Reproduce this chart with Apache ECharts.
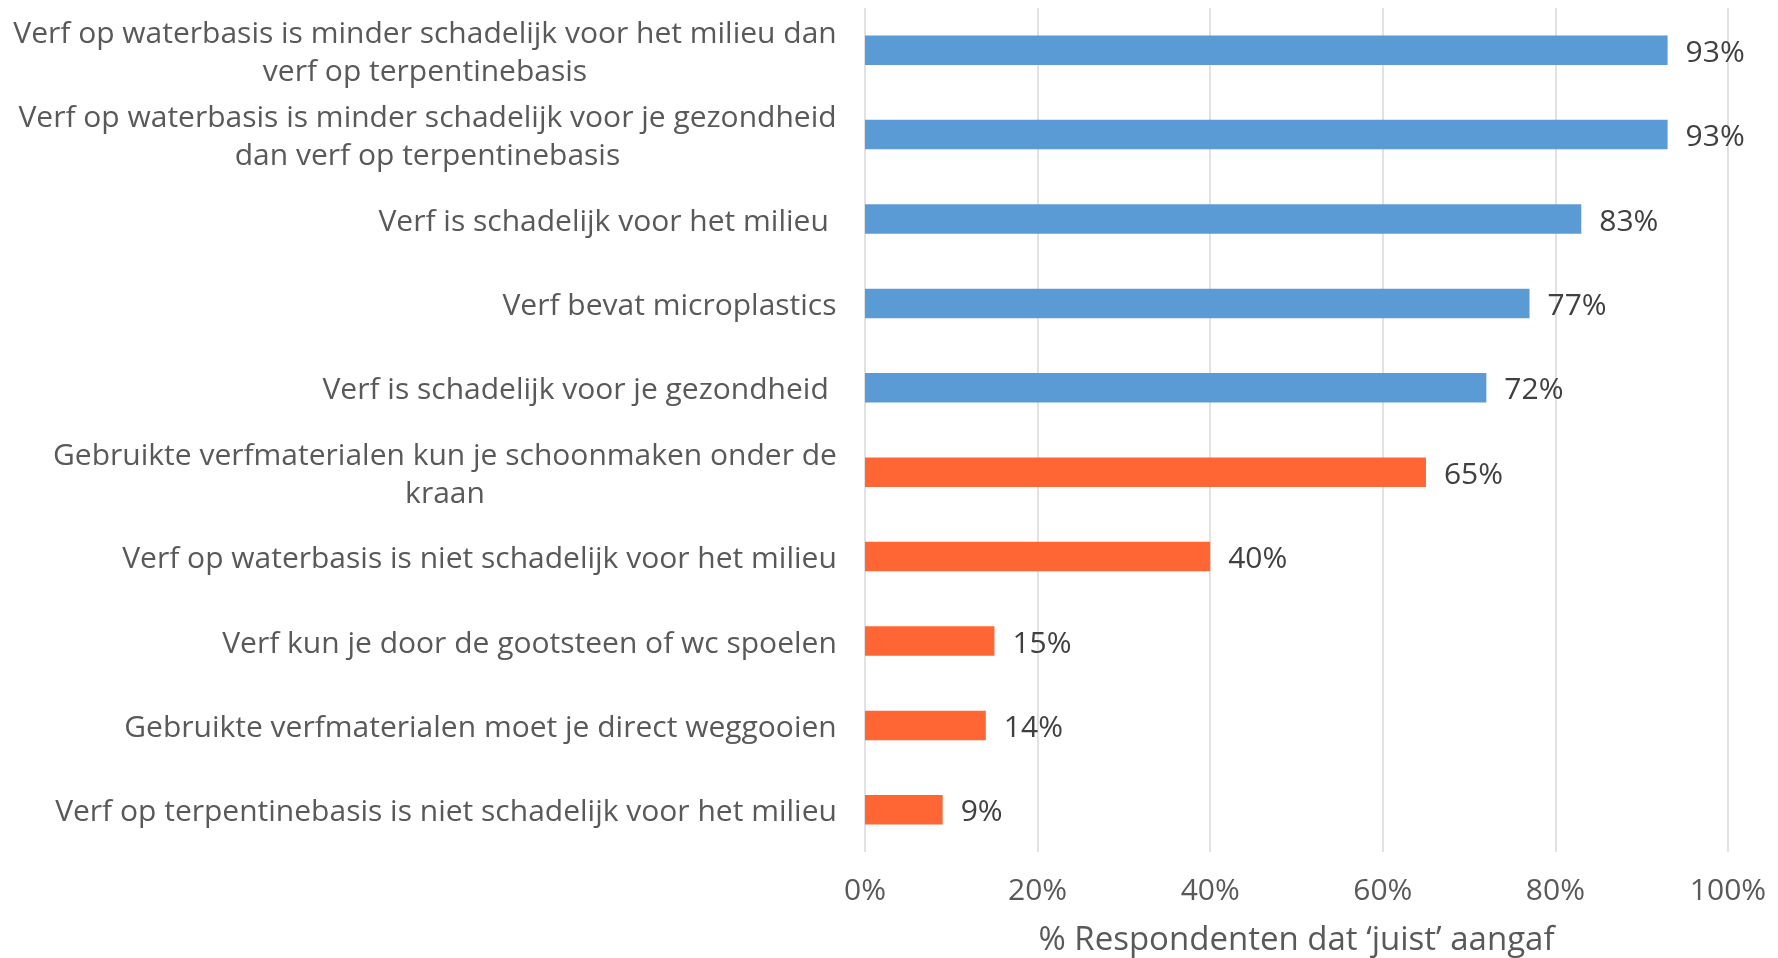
<!DOCTYPE html>
<html>
<head>
<meta charset="utf-8">
<script src="https://cdn.jsdelivr.net/npm/echarts@6/dist/echarts.min.js"></script>
<style>
html,body{margin:0;padding:0;background:#fff;}
#chart{width:1778px;height:958px;}
</style>
</head>
<body>
<div id="chart"></div>
<script>
const categories = [
  'Verf op waterbasis is minder schadelijk voor het milieu dan\nverf op terpentinebasis',
  'Verf op waterbasis is minder schadelijk voor je gezondheid\ndan verf op terpentinebasis',
  'Verf is schadelijk voor het milieu ',
  'Verf bevat microplastics',
  'Verf is schadelijk voor je gezondheid ',
  'Gebruikte verfmaterialen kun je schoonmaken onder de\nkraan',
  'Verf op waterbasis is niet schadelijk voor het milieu',
  'Verf kun je door de gootsteen of wc spoelen',
  'Gebruikte verfmaterialen moet je direct weggooien',
  'Verf op terpentinebasis is niet schadelijk voor het milieu'
];
const values = [93, 93, 83, 77, 72, 65, 40, 15, 14, 9];
const tickValues = [0, 20, 40, 60, 80, 100];
const axisTitle = '% Respondenten dat \u2018juist\u2019 aangaf';

const FONT = 'Open Sans';
const LABEL_SIZE = 30;
const canvas = document.createElement('canvas');
const ctx = canvas.getContext('2d');
ctx.font = LABEL_SIZE + 'px "' + FONT + '"';

const rich = {};
const labelMap = {};
categories.forEach((c, i) => {
  const lines = c.split('\n');
  const w = Math.max.apply(null, lines.map(l => ctx.measureText(l).width));
  rich['r' + i] = { width: Math.ceil(w), align: 'center', fontFamily: FONT, fontSize: LABEL_SIZE, color: '#595959', lineHeight: 38 };
  labelMap[c] = lines.map(l => '{r' + i + '|' + l + '}').join('\n');
});

const chart = echarts.init(document.getElementById('chart'));
chart.setOption({
  animation: false,
  textStyle: { fontFamily: FONT },
  grid: { left: 865, right: 50, top: 8, bottom: 106, containLabel: false, outerBoundsMode: 'none' },
  xAxis: {
    type: 'value', min: 0, max: 100, interval: 20,
    axisLine: { show: false }, axisTick: { show: false },
    splitLine: { show: true, lineStyle: { color: '#d9d9d9', width: 1.5 } },
    axisLabel: { formatter: v => tickValues.includes(v) ? v + '%' : '', fontFamily: FONT, fontSize: 30, color: '#595959', margin: 24 },
    name: axisTitle, nameLocation: 'middle', nameGap: 72,
    nameTextStyle: { fontFamily: FONT, fontSize: 33, color: '#595959' }
  },
  yAxis: {
    type: 'category', inverse: true, data: categories,
    axisLine: { show: false }, axisTick: { show: false },
    axisLabel: { formatter: v => labelMap[v], rich: rich, margin: 28, padding: [6, 0, 0, 0], fontFamily: FONT, fontSize: LABEL_SIZE, color: '#595959', lineHeight: 38 }
  },
  series: [{
    type: 'bar', data: values, barWidth: '35%',
    itemStyle: { color: p => p.dataIndex < 5 ? '#5B9BD5' : '#FF6633' },
    label: { show: true, position: 'right', distance: 18, offset: [0, 3], formatter: '{c}%', fontFamily: FONT, fontSize: 30, color: '#404040' }
  }]
});
</script>
</body>
</html>
